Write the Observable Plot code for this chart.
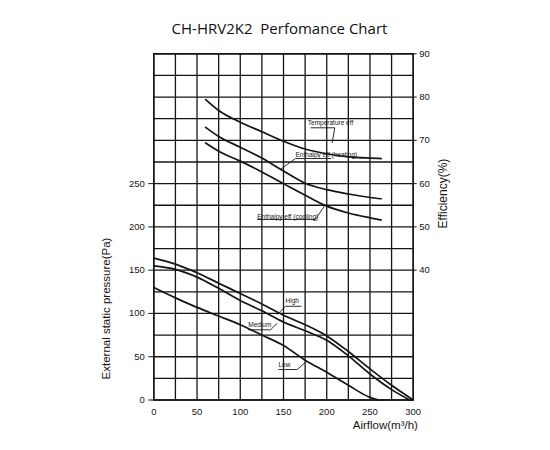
<!DOCTYPE html>
<html>
<head>
<meta charset="utf-8">
<script src="https://cdn.jsdelivr.net/npm/d3@7"></script>
<script src="https://cdn.jsdelivr.net/npm/@observablehq/plot@0.6"></script>
<style>
  body { margin: 0; background: #fff; }
  #title {
    box-sizing: border-box; width: 550px; height: 40px; padding: 16px 0 0 9px;
    font: 15px "Open Sans", sans-serif; line-height: 24px; text-align: center; color: #111;
  }
  #chart svg { display: block; }
</style>
</head>
<body>
<div id="title">CH-HRV2K2&nbsp; Perfomance Chart</div>
<div id="chart"></div>
<script>
// fan curves: external static pressure (Pa) vs airflow (m3/h)
var highFlow = [0, 25, 50, 75, 100, 125, 150, 175, 200, 225, 250, 275, 300];
var highPa   = [164, 157, 147, 135, 123, 111, 98, 87, 74, 56, 36, 17, 0];
var medFlow  = [0, 25, 50, 75, 100, 125, 150, 175, 200, 225, 250, 275, 296];
var medPa    = [155, 151, 142, 129, 115, 103, 90, 80, 69, 51, 30, 12, 0];
var lowFlow  = [0, 25, 50, 75, 100, 125, 150, 175, 200, 225, 250, 260];
var lowPa    = [130, 118, 107, 97, 87, 75, 63, 46, 32, 17, 3, 0];

// efficiency curves (%) vs airflow
var effFlow  = [60, 75, 100, 125, 150, 175, 200, 225, 250, 263];
var tempEff  = [79.4, 76.9, 74.2, 72.0, 69.8, 68.0, 66.9, 66.2, 65.9, 65.8];
var heatEff  = [73.0, 70.9, 68.4, 65.9, 62.9, 60.1, 58.6, 57.6, 56.8, 56.5];
var coolEff  = [69.4, 67.5, 65.2, 62.7, 60.0, 57.3, 54.8, 53.2, 52.1, 51.6];

var xTicks = [0, 50, 100, 150, 200, 250, 300];
var paTicks = [0, 50, 100, 150, 200, 250];
var effTicks = [40, 50, 60, 70, 80, 90];

// curve labels: text anchor, underline (u -> l), leader (l -> p), in airflow and Pa or %
var paLabels = [
  {name: "High",   x: 152.3, y: 114, ux: 170.8, uy: 108.3, lx: 152.3, ly: 108.3, px: 142.7, py: 98.7},
  {name: "Medium", x: 109.2, y: 87,  ux: 109.2, uy: 81.1,  lx: 135,   ly: 81.1,  px: 142.7, py: 88.7},
  {name: "Low",    x: 144.2, y: 41,  ux: 144.2, uy: 35.2,  lx: 165.8, ly: 35.2,  px: 175.4, py: 43.6}
];
var effLabels = [
  {name: "Temperature eff",        x: 178.1, y: 74.1, ux: 181.4, uy: 72.9, lx: 209.3, ly: 72.9, px: 206.3, py: 69.4},
  {name: "Enthalpy eff (heating)", x: 163.9, y: 66.7, ux: 205,   uy: 65.8, lx: 163.9, ly: 65.8, px: 146.6, py: 63.3},
  {name: "Enthalpy eff (cooling)", x: 119.6, y: 52.4, ux: 119.6, uy: 51.7, lx: 186.9, ly: 51.7, px: 197.8, py: 55.0}
];

// right axis shares the grid: 40% sits on 150 Pa, 10% per 50 Pa
function effToPa(e) { return 150 + (e - 40) * 5; }

function zip(xs, ys) { return xs.map(function (x, i) { return {x: x, y: ys[i]}; }); }

var series = [
  zip(highFlow, highPa), zip(medFlow, medPa), zip(lowFlow, lowPa),
  zip(effFlow, tempEff.map(effToPa)), zip(effFlow, heatEff.map(effToPa)), zip(effFlow, coolEff.map(effToPa))
];

var labels = paLabels.concat(effLabels.map(function (d) {
  return {name: d.name, x: d.x, y: effToPa(d.y), ux: d.ux, uy: effToPa(d.uy),
    lx: d.lx, ly: effToPa(d.ly), px: d.px, py: effToPa(d.py)};
}));

var gridX = d3.range(0, 301, 25);
var gridY = d3.range(0, 401, 25);
var ink = "#151515";
var font = "'Liberation Sans', Arial, sans-serif";

var plot = Plot.plot({
  width: 550,
  height: 410,
  marginTop: 13.3,
  marginBottom: 50.5,
  marginLeft: 153.3,
  marginRight: 137.3,
  style: {fontFamily: font, color: ink, background: "#fff"},
  x: {domain: [0, 300]},
  y: {domain: [0, 400]},
  marks: [
    Plot.gridX(gridX, {stroke: ink, strokeOpacity: 1, strokeWidth: 1.3}),
    Plot.gridY(gridY, {stroke: ink, strokeOpacity: 1, strokeWidth: 1.3}),
    Plot.frame({stroke: ink, strokeWidth: 1.5}),
    Plot.axisX({ticks: xTicks, tickSize: 0, tickPadding: 8, fontSize: 9.5, label: null}),
    Plot.axisY({ticks: paTicks, tickSize: 5, tickPadding: 4, fontSize: 9.5, label: null}),
    Plot.axisY({anchor: "right", ticks: effTicks.map(effToPa), tickFormat: function (p) { return (p - 150) / 5 + 40; },
      tickSize: 3, tickPadding: 3, fontSize: 9.5, label: null}),
    series.map(function (s) {
      return Plot.line(s, {x: "x", y: "y", curve: "monotone-x", stroke: ink, strokeWidth: 1.7});
    }),
    Plot.link(labels, {x1: "ux", y1: "uy", x2: "lx", y2: "ly", stroke: ink, strokeWidth: 0.9}),
    Plot.link(labels, {x1: "lx", y1: "ly", x2: "px", y2: "py", stroke: ink, strokeWidth: 0.9}),
    Plot.text(labels, {x: "x", y: "y", text: "name", textAnchor: "start", fontSize: 6.5, fill: ink}),
    // axis titles, placed in chart units beyond the frame
    Plot.text(["External static pressure(Pa)"], {x: -54.7, y: 105.7, rotate: -90, fontSize: 11.5, fill: ink}),
    Plot.text(["Efficiency(%)"], {x: 335, y: 238.5, rotate: -90, fontSize: 12, fill: ink}),
    Plot.text(["Airflow(m³/h)"], {x: 305.5, y: -28.8, textAnchor: "end", fontSize: 11.5, fill: ink})
  ]
});

document.getElementById("chart").appendChild(plot);
</script>
</body>
</html>
